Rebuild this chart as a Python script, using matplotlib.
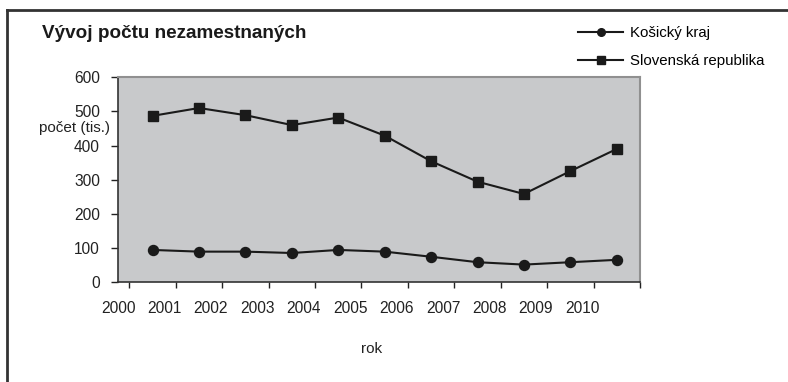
import numpy as np
import matplotlib.pyplot as plt
from matplotlib.lines import Line2D

plt.rcParams['font.family'] = ['Liberation Sans', 'DejaVu Sans']

# roky a pocty nezamestnanych (tis.)
roky = ['2000', '2001', '2002', '2003', '2004', '2005', '2006', '2007', '2008', '2009', '2010']
kosicky_kraj = [94, 89, 89, 85, 94, 89, 74, 58, 51, 58, 65]
slovenska_republika = [487, 510, 489, 460, 482, 429, 354, 294, 258, 325, 390]

fig = plt.figure(figsize=(7.88, 3.82), dpi=100)
ax = fig.add_axes([118/788, 1-282/382, 522/788, 204.7/382])
ax.set_facecolor('#c8c9cb')

x = np.arange(len(roky)) + 0.5
ax.plot(x, kosicky_kraj, color='#1a1a1a', lw=1.5, marker='o', ms=7.2, label='Košický kraj')
ax.plot(x, slovenska_republika, color='#1a1a1a', lw=1.5, marker='s', ms=7, label='Slovenská republika')

ax.set_xlim(0, len(roky))
ax.set_ylim(0, 600)
ax.set_yticks(range(0, 601, 100))
ax.tick_params(axis='y', direction='out', length=5, width=1, pad=8, labelsize=11.2, colors='#222222')

# hlavne ciarky bez popisu, popisy rokov posunute dolava
ax.set_xticks(range(0, len(roky)+1))
ax.set_xticklabels([])
ax.tick_params(axis='x', which='major', direction='out', length=4, width=1, colors='#222222')
ax.set_xticks(np.arange(len(roky)) - 0.245, minor=True)
ax.set_xticklabels(roky, minor=True)
ax.tick_params(axis='x', which='minor', length=0, pad=14, labelsize=11.2, labelcolor='#222222')

for s in ['left', 'bottom']:
    ax.spines[s].set_color('#333333')
    ax.spines[s].set_linewidth(1.2)
for s in ['top', 'right']:
    ax.spines[s].set_color('#909090')
    ax.spines[s].set_linewidth(1.5)

fig.text(42/788, 1-33/382, 'Vývoj počtu nezamestnaných', fontsize=13.6, fontweight='bold',
         va='center', ha='left', color='#1a1a1a')
fig.text(110/788, 1-128/382, 'počet (tis.)', fontsize=11, ha='right', va='center', color='#222222')
fig.text(372/788, 1-349/382, 'rok', fontsize=11, ha='center', va='center', color='#222222')

# legenda
leg_handles = [Line2D([], [], color='#1a1a1a', lw=1.5, marker='o', ms=5.5),
               Line2D([], [], color='#1a1a1a', lw=1.5, marker='s', ms=5.5)]
fig.legend(leg_handles, ['Košický kraj', 'Slovenská republika'], loc='upper left',
           bbox_to_anchor=(578/788, 1-26/382), frameon=False, fontsize=10.8,
           handlelength=3.0, handletextpad=0.5, labelspacing=0.95, borderpad=0, borderaxespad=0)

# ramik okolo grafu
fig.add_artist(Line2D([7/788, 7/788], [0, 1-10/382], transform=fig.transFigure, color='#333333', lw=2))
fig.add_artist(Line2D([7/788, 1], [1-10/382, 1-10/382], transform=fig.transFigure, color='#333333', lw=2))

fig.savefig('out.png', dpi=100)
